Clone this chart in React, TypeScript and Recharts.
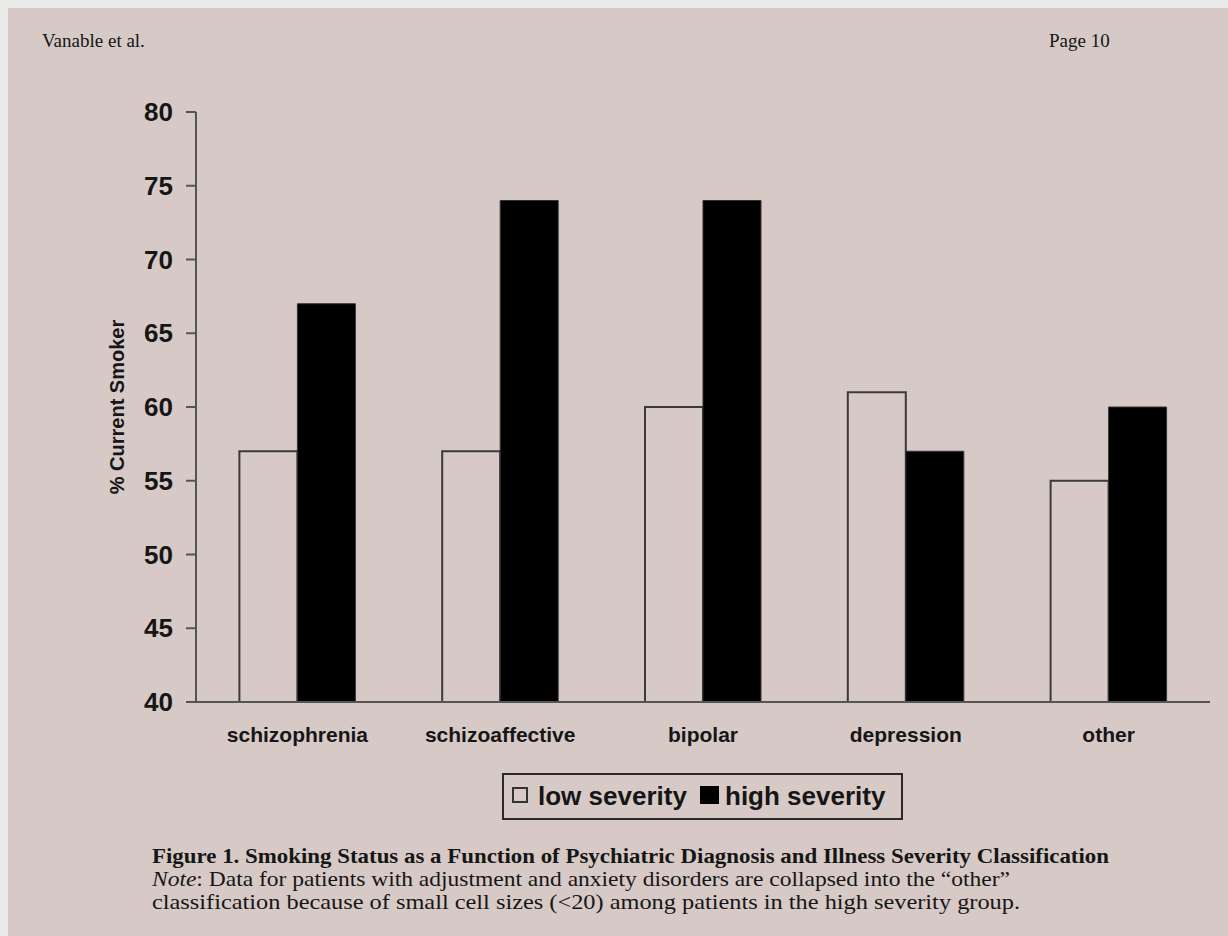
import React from 'react';
import { BarChart, Bar, XAxis, YAxis } from 'recharts';

const categories = ['schizophrenia', 'schizoaffective', 'bipolar', 'depression', 'other'];
const lowSeverity = [57, 57, 60, 61, 55];
const highSeverity = [67, 74, 74, 57, 60];
const yTicks = [40, 45, 50, 55, 60, 65, 70, 75, 80];
const seriesNames = ['low severity', 'high severity'];
const yAxisTitle = '% Current Smoker';
const headerLeft = 'Vanable et al.';
const headerRight = 'Page 10';
const captionTitle =
  'Figure 1. Smoking Status as a Function of Psychiatric Diagnosis and Illness Severity Classification';
const captionNoteLabel = 'Note';
const captionLine2 =
  ': Data for patients with adjustment and anxiety disorders are collapsed into the \u201Cother\u201D';
const captionLine3 =
  'classification because of small cell sizes (<20) among patients in the high severity group.';

const data = categories.map((c, i) => ({ name: c, low: lowSeverity[i], high: highSeverity[i] }));

const SANS = "'Liberation Sans', Arial, Helvetica, sans-serif";
const SERIF = "'Liberation Serif', 'Times New Roman', serif";
const BG = '#d7cac6';
const INK = '#161616';
const AXIS = '#555';

export default function App() {
  return (
    <div style={{ position: 'fixed', left: 0, top: 0, width: 1228, height: 936, background: '#e9e9e9', overflow: 'hidden' }}>
      <div style={{ position: 'absolute', left: 8, top: 8, width: 1220, height: 928, background: BG, overflow: 'hidden' }}>
        <div style={{ position: 'absolute', left: 0, top: 0 }}>
          <BarChart
            width={1220}
            height={760}
            data={data}
            margin={{ top: 104, right: 18, bottom: 26, left: 108 }}
            barCategoryGap="21.4%"
            barGap={0}
          >
            <XAxis
              dataKey="name"
              height={40}
              interval={0}
              axisLine={{ stroke: AXIS, strokeWidth: 2 }}
              tickLine={false}
              tickSize={0}
              tickMargin={25}
              tick={{ fontSize: 21, fontWeight: 'bold', fill: INK, fontFamily: SANS }}
            />
            <YAxis
              width={80}
              domain={[40, 80]}
              ticks={yTicks}
              interval={0}
              allowDataOverflow
              tickSize={10}
              tickMargin={13}
              axisLine={{ stroke: AXIS, strokeWidth: 2 }}
              tickLine={{ stroke: AXIS, strokeWidth: 2 }}
              tick={{ fontSize: 26, fontWeight: 'bold', fill: INK, fontFamily: SANS }}
              label={{
                value: yAxisTitle,
                angle: -90,
                position: 'center',
                dx: -39,
                style: { fontSize: 20, fontWeight: 'bold', fill: INK, fontFamily: SANS },
              }}
            />
            <Bar
              dataKey="low"
              name={seriesNames[0]}
              fill="none"
              stroke="#3a3a3a"
              strokeWidth={2}
              isAnimationActive={false}
            />
            <Bar
              dataKey="high"
              name={seriesNames[1]}
              fill="#000"
              stroke="#333"
              strokeWidth={1}
              isAnimationActive={false}
            />
          </BarChart>
        </div>

        {/* Legend */}
        <div
          style={{
            position: 'absolute',
            left: 494,
            top: 765,
            width: 401,
            height: 47,
            border: '2px solid #2a2a2a',
            boxSizing: 'border-box',
            fontFamily: SANS,
            fontWeight: 'bold',
            fontSize: 26,
            color: INK,
          }}
        >
          <div style={{ position: 'absolute', left: 8, top: 12, width: 16, height: 16, border: '2px solid #333', boxSizing: 'border-box' }} />
          <div style={{ position: 'absolute', left: 34, top: 5, lineHeight: '32px', whiteSpace: 'nowrap' }}>{seriesNames[0]}</div>
          <div style={{ position: 'absolute', left: 196, top: 11, width: 19, height: 18, background: '#000' }} />
          <div style={{ position: 'absolute', left: 221, top: 5, lineHeight: '32px', whiteSpace: 'nowrap' }}>{seriesNames[1]}</div>
        </div>

        {/* Page texts */}
        <svg width={1220} height={928} style={{ position: 'absolute', left: 0, top: 0, pointerEvents: 'none' }}>
          <text x={34} y={39} fontFamily={SERIF} fontSize={19} fill={INK}>{headerLeft}</text>
          <text x={1041} y={39} fontFamily={SERIF} fontSize={19} fill={INK}>{headerRight}</text>
          <text x={144} y={855} fontFamily={SERIF} fontSize={21} fontWeight="bold" fill={INK} textLength={957} lengthAdjust="spacingAndGlyphs">
            {captionTitle}
          </text>
          <text x={144} y={878} fontFamily={SERIF} fontSize={21} fill={INK} textLength={858} lengthAdjust="spacingAndGlyphs">
            <tspan fontStyle="italic">{captionNoteLabel}</tspan>
            {captionLine2}
          </text>
          <text x={144} y={901} fontFamily={SERIF} fontSize={21} fill={INK} textLength={868} lengthAdjust="spacingAndGlyphs">
            {captionLine3}
          </text>
        </svg>
      </div>
    </div>
  );
}
